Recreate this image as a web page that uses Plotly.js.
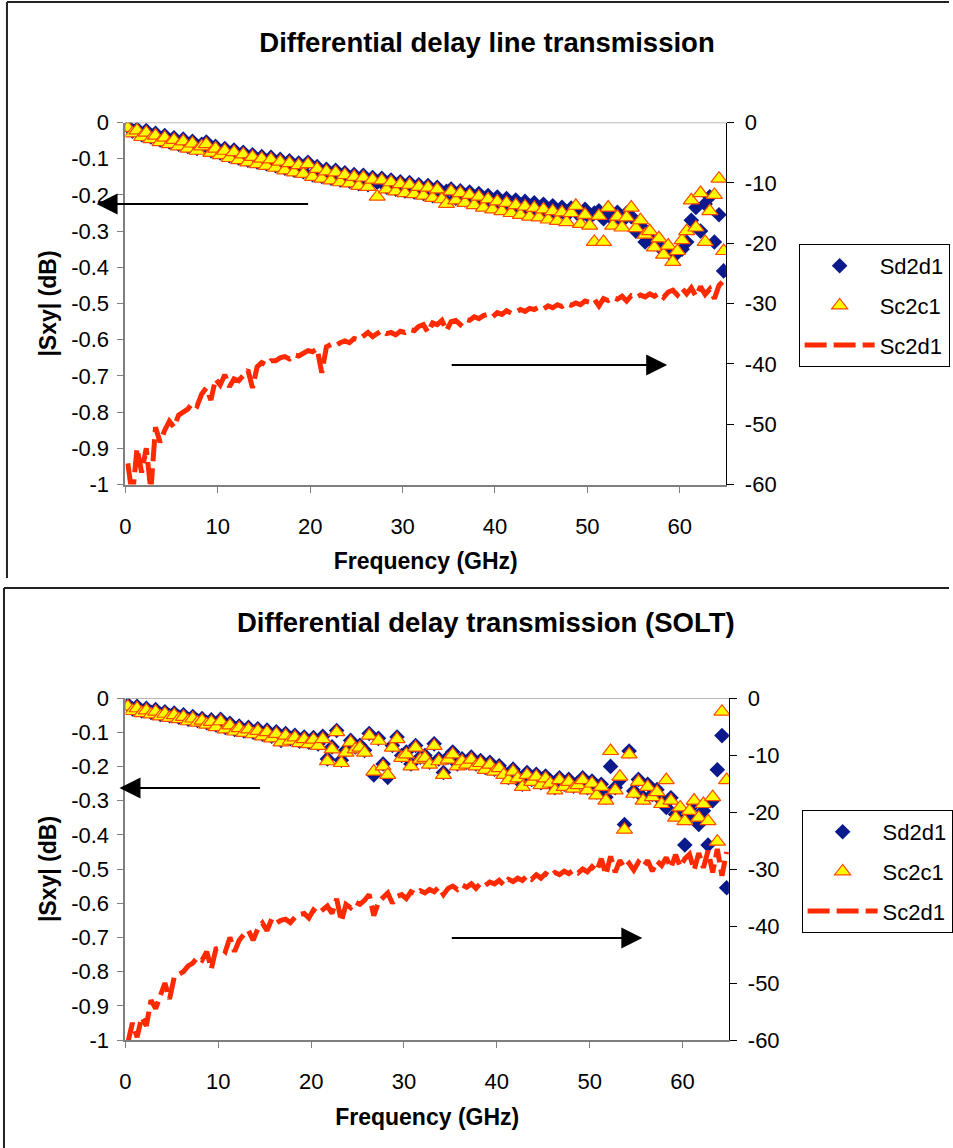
<!DOCTYPE html>
<html>
<head>
<meta charset="utf-8">
<script src="https://cdn.plot.ly/plotly-3.0.1.min.js"></script>
<style>html,body{margin:0;padding:0;background:#fff;}#chart{width:953px;height:1148px;}</style>
</head>
<body>
<div id="chart"></div>
<script>
// ---------------- DATA ----------------
const freqGHz = [0.25,0.75,1.25,1.75,2.25,2.75,3.25,3.75,4.25,4.75,5.25,5.75,6.25,6.75,7.25,7.75,8.25,8.75,9.25,9.75,
10.25,10.75,11.25,11.75,12.25,12.75,13.25,13.75,14.25,14.75,15.25,15.75,16.25,16.75,17.25,17.75,18.25,18.75,19.25,19.75,
20.25,20.75,21.25,21.75,22.25,22.75,23.25,23.75,24.25,24.75,25.25,25.75,26.25,26.75,27.25,27.75,28.25,28.75,29.25,29.75,
30.25,30.75,31.25,31.75,32.25,32.75,33.25,33.75,34.25,34.75,35.25,35.75,36.25,36.75,37.25,37.75,38.25,38.75,39.25,39.75,
40.25,40.75,41.25,41.75,42.25,42.75,43.25,43.75,44.25,44.75,45.25,45.75,46.25,46.75,47.25,47.75,48.25,48.75,49.25,49.75,
50.25,50.75,51.25,51.75,52.25,52.75,53.25,53.75,54.25,54.75,55.25,55.75,56.25,56.75,57.25,57.75,58.25,58.75,59.25,59.75,
60.25,60.75,61.25,61.75,62.25,62.75,63.25,63.75,64.25,64.75];

// Panel 1: Differential delay line transmission
const line_Sd2d1 = [-0.010,-0.024,-0.018,-0.034,-0.022,-0.040,-0.030,-0.048,-0.036,-0.054,
-0.042,-0.060,-0.046,-0.066,-0.052,-0.072,-0.060,-0.054,-0.078,-0.066,
-0.084,-0.072,-0.092,-0.076,-0.098,-0.082,-0.104,-0.089,-0.109,-0.094,
-0.114,-0.096,-0.119,-0.102,-0.126,-0.106,-0.132,-0.112,-0.136,-0.110,
-0.144,-0.122,-0.149,-0.129,-0.154,-0.132,-0.159,-0.139,-0.162,-0.144,
-0.169,-0.146,-0.172,-0.152,-0.165,-0.154,-0.179,-0.159,-0.184,-0.164,
-0.189,-0.166,-0.192,-0.172,-0.196,-0.174,-0.202,-0.179,-0.206,-0.190,
-0.184,-0.209,-0.189,-0.214,-0.192,-0.218,-0.196,-0.224,-0.202,-0.228,
-0.206,-0.232,-0.210,-0.236,-0.214,-0.240,-0.218,-0.244,-0.222,-0.246,
-0.226,-0.250,-0.230,-0.254,-0.234,-0.256,-0.236,-0.240,-0.260,-0.240,
-0.262,-0.250,-0.244,-0.266,-0.250,-0.268,-0.248,-0.272,-0.250,-0.260,
-0.300,-0.285,-0.330,-0.320,-0.335,-0.340,-0.355,-0.350,-0.370,-0.360,
-0.350,-0.330,-0.270,-0.235,-0.300,-0.225,-0.205,-0.330,-0.255,-0.410];

const line_Sc2c1 = [-0.015,-0.030,-0.022,-0.040,-0.028,-0.046,-0.036,-0.054,-0.042,-0.060,
-0.048,-0.066,-0.052,-0.072,-0.058,-0.078,-0.066,-0.060,-0.084,-0.072,
-0.090,-0.078,-0.098,-0.082,-0.104,-0.088,-0.110,-0.095,-0.115,-0.100,
-0.120,-0.102,-0.125,-0.108,-0.132,-0.112,-0.138,-0.118,-0.142,-0.115,
-0.150,-0.128,-0.155,-0.135,-0.160,-0.138,-0.165,-0.145,-0.168,-0.150,
-0.175,-0.152,-0.178,-0.158,-0.205,-0.160,-0.185,-0.165,-0.190,-0.170,
-0.195,-0.172,-0.198,-0.178,-0.202,-0.180,-0.208,-0.185,-0.212,-0.225,
-0.190,-0.215,-0.195,-0.222,-0.200,-0.228,-0.205,-0.235,-0.212,-0.240,
-0.218,-0.245,-0.222,-0.250,-0.228,-0.255,-0.232,-0.260,-0.236,-0.262,
-0.240,-0.268,-0.245,-0.272,-0.248,-0.275,-0.250,-0.230,-0.280,-0.255,
-0.285,-0.330,-0.258,-0.330,-0.235,-0.285,-0.260,-0.290,-0.262,-0.235,
-0.292,-0.270,-0.310,-0.300,-0.345,-0.320,-0.365,-0.340,-0.385,-0.355,
-0.325,-0.300,-0.215,-0.290,-0.195,-0.330,-0.245,-0.200,-0.155,-0.355];

const line_Sc2d1 = [-56.5,-62,-54,-58,-54,-61,-50.5,-53,-51,-49.5,
-50.5,-48.5,-48,-47.5,-46.5,-47,-45,-44,-46,-42.5,
-43.5,-41.8,-43.8,-42.5,-42.8,-42,-41,-44,-40.5,-39.8,
-40.2,-39.5,-39.5,-39,-38.8,-39.2,-38.5,-38.7,-38.2,-37.8,
-38,-37.5,-41.5,-37.2,-36.8,-37,-36.5,-36.2,-36.5,-35.8,
-36,-35.5,-34.8,-35.5,-35,-34.5,-35,-34.8,-35.2,-34.6,
-34.8,-34.3,-34.5,-33.8,-33.5,-34.8,-33.2,-33.5,-32.8,-34.5,
-33,-32.8,-33.5,-32.6,-32.8,-32.2,-32.5,-32,-31.8,-32.2,
-31.5,-31.8,-31.2,-31.6,-31.4,-31,-31.3,-30.8,-31,-30.6,
-30.9,-30.4,-30.7,-30.2,-30.5,-30,-30.3,-29.9,-30.2,-29.6,
-29.8,-29.3,-30.4,-29.2,-29.5,-29,-29.3,-28.8,-29.6,-28.7,
-29,-28.6,-28.9,-28.4,-28.8,-28.3,-29,-28.1,-27.8,-28.6,
-27.5,-28.4,-27.4,-28.8,-27.2,-28.5,-27.6,-29.2,-27,-26.2];

// Panel 2: Differential delay transmission (SOLT)
const solt_Sd2d1 = [-0.019,-0.032,-0.024,-0.038,-0.030,-0.042,-0.034,-0.048,-0.040,-0.052,
-0.044,-0.056,-0.049,-0.062,-0.054,-0.066,-0.060,-0.072,-0.064,-0.079,
-0.062,-0.086,-0.074,-0.092,-0.082,-0.096,-0.086,-0.100,-0.090,-0.106,
-0.094,-0.112,-0.099,-0.124,-0.104,-0.119,-0.109,-0.126,-0.114,-0.129,
-0.116,-0.134,-0.112,-0.178,-0.143,-0.095,-0.182,-0.152,-0.124,-0.143,
-0.138,-0.153,-0.104,-0.225,-0.118,-0.193,-0.232,-0.139,-0.114,-0.168,
-0.158,-0.193,-0.139,-0.173,-0.168,-0.188,-0.134,-0.178,-0.218,-0.173,
-0.158,-0.193,-0.178,-0.188,-0.173,-0.193,-0.183,-0.203,-0.188,-0.208,
-0.198,-0.218,-0.232,-0.208,-0.228,-0.252,-0.218,-0.238,-0.223,-0.248,
-0.228,-0.243,-0.262,-0.233,-0.252,-0.238,-0.258,-0.248,-0.233,-0.262,
-0.243,-0.275,-0.252,-0.290,-0.200,-0.262,-0.240,-0.370,-0.155,-0.272,
-0.238,-0.290,-0.252,-0.282,-0.268,-0.300,-0.320,-0.292,-0.340,-0.330,
-0.430,-0.350,-0.310,-0.370,-0.330,-0.430,-0.300,-0.210,-0.110,-0.555];

const solt_Sc2c1 = [-0.025,-0.038,-0.030,-0.044,-0.036,-0.048,-0.040,-0.054,-0.046,-0.058,
-0.050,-0.062,-0.055,-0.068,-0.060,-0.072,-0.066,-0.078,-0.070,-0.085,
-0.068,-0.092,-0.080,-0.098,-0.088,-0.102,-0.092,-0.106,-0.096,-0.112,
-0.100,-0.118,-0.105,-0.130,-0.110,-0.125,-0.115,-0.132,-0.120,-0.135,
-0.122,-0.140,-0.120,-0.185,-0.150,-0.100,-0.190,-0.160,-0.130,-0.150,
-0.145,-0.160,-0.110,-0.215,-0.125,-0.200,-0.225,-0.145,-0.120,-0.175,
-0.165,-0.200,-0.145,-0.180,-0.175,-0.195,-0.140,-0.185,-0.225,-0.180,
-0.165,-0.200,-0.185,-0.195,-0.180,-0.200,-0.190,-0.210,-0.195,-0.215,
-0.205,-0.225,-0.240,-0.215,-0.235,-0.260,-0.225,-0.245,-0.230,-0.255,
-0.235,-0.250,-0.270,-0.240,-0.260,-0.245,-0.265,-0.255,-0.240,-0.270,
-0.250,-0.285,-0.260,-0.300,-0.155,-0.270,-0.230,-0.385,-0.165,-0.280,
-0.245,-0.300,-0.260,-0.290,-0.275,-0.310,-0.240,-0.300,-0.350,-0.320,
-0.360,-0.330,-0.300,-0.350,-0.310,-0.360,-0.290,-0.420,-0.040,-0.240];

const solt_Sc2d1 = [-60.5,-57,-59.5,-56,-57.5,-53,-54.5,-52.5,-50,-52.8,
-49,-48.5,-48,-47,-46.5,-45.5,-46,-44.5,-47.5,-44,
-43.8,-44.5,-42,-44.5,-42.5,-41.5,-40.8,-42.5,-40.5,-39.5,
-40.8,-38.8,-39.5,-39,-38.8,-39.4,-38.5,-38,-37.8,-38.6,
-37.2,-37.8,-37,-36.5,-37.8,-35.2,-39.2,-36.2,-36.8,-35.8,
-36.2,-35.5,-34.5,-38.2,-35.8,-35,-34.2,-36,-34.8,-34.5,
-35.2,-34,-34.4,-33.8,-34.2,-33.6,-34,-33.2,-34.5,-33.4,
-33,-33.6,-32.8,-33.2,-32.6,-33.4,-32.5,-32.9,-32.3,-32.6,
-32,-32.8,-31.8,-32.2,-31.6,-32,-31.2,-31.8,-31,-31.6,
-30.8,-31.3,-30.6,-31,-30.4,-30.8,-30.2,-30.7,-30,-30.5,
-29.6,-30.4,-28.2,-31,-27.8,-30.6,-28.5,-29.8,-29,-30.2,
-28.8,-29.6,-28.5,-30.4,-28.6,-29.4,-28,-29.8,-27.5,-29.6,
-28.2,-27.4,-30.2,-27.2,-29.8,-26.8,-30.6,-26.5,-31.2,-27];

const xTickVals = [0,10,20,30,40,50,60];
const xTickText = ['0','10','20','30','40','50','60'];
const leftTickVals = [0,-0.1,-0.2,-0.3,-0.4,-0.5,-0.6,-0.7,-0.8,-0.9,-1];
const leftTickText = ['0','-0.1','-0.2','-0.3','-0.4','-0.5','-0.6','-0.7','-0.8','-0.9','-1'];
const rightTickVals = [0,-10,-20,-30,-40,-50,-60];
const rightTickText = ['0','-10','-20','-30','-40','-50','-60'];
const seriesNames = ['Sd2d1','Sc2c1','Sc2d1'];
const titles = ['Differential delay line transmission','Differential delay transmission (SOLT)'];

// ---------------- LAYOUT HELPERS ----------------
const W = 953, H = 1148;
const px = v => v / W;
const py = v => 1 - v / H;
const FONT = 'Liberation Sans, Arial, sans-serif';

function scatterTraces(xa, ya, ya2, legendId, dia, tri, red) {
  return [
    {x: freqGHz, y: dia, type: 'scatter', mode: 'markers', name: seriesNames[0],
     xaxis: xa, yaxis: ya, legend: legendId, legendgroup: legendId + 'a',
     marker: {symbol: 'diamond', size: 12, color: '#0A1A8C'}},
    {x: freqGHz, y: tri, type: 'scatter', mode: 'markers', name: seriesNames[1],
     xaxis: xa, yaxis: ya, legend: legendId, legendgroup: legendId + 'b',
     marker: {symbol: 'triangle-up', size: 14, color: '#FFFF00', line: {color: '#FF4A00', width: 1.2}}},
    {x: freqGHz, y: red, type: 'scatter', mode: 'lines', name: seriesNames[2],
     xaxis: xa, yaxis: ya2, legend: legendId, legendgroup: legendId + 'c',
     line: {color: '#FF2A00', width: 5, dash: '22px,7px'}}
  ];
}

const data = [].concat(
  scatterTraces('x', 'y', 'y2', 'legend', line_Sd2d1, line_Sc2c1, line_Sc2d1),
  scatterTraces('x2', 'y3', 'y4', 'legend2', solt_Sd2d1, solt_Sc2c1, solt_Sc2d1)
);

const tickFont = {family: FONT, size: 22, color: '#000'};
const titleFont = {family: FONT, size: 23, color: '#000', weight: 'bold'};

function xAxis(domain, anchor) {
  return {domain: domain, anchor: anchor, range: [0, 65], tickmode: 'array', tickvals: xTickVals, ticktext: xTickText,
    showgrid: false, zeroline: false, showline: true, linecolor: '#7F7F7F', linewidth: 2,
    ticks: 'outside', ticklen: 6, tickcolor: '#7F7F7F', tickwidth: 1, tickfont: tickFont, ticklabelstandoff: 15,
    title: {text: 'Frequency (GHz)', font: titleFont, standoff: 15}};
}
function yLeft(domain, anchor) {
  return {domain: domain, anchor: anchor, range: [-1, 0], tickmode: 'array', tickvals: leftTickVals, ticktext: leftTickText,
    showgrid: false, zeroline: false, showline: true, linecolor: '#7F7F7F', linewidth: 2,
    ticks: 'outside', ticklen: 6, tickcolor: '#7F7F7F', tickfont: tickFont, ticklabelstandoff: 4,
    title: {text: '|Sxy| (dB)', font: titleFont, standoff: 8}};
}
function yRight(overlay, anchor) {
  return {overlaying: overlay, anchor: anchor, side: 'right', range: [-60, 0], tickmode: 'array',
    tickvals: rightTickVals, ticktext: rightTickText,
    showgrid: false, zeroline: false, showline: true, linecolor: '#000', linewidth: 1.5,
    ticks: 'outside', ticklen: 7, tickcolor: '#000', tickfont: tickFont, ticklabelstandoff: 6};
}

const legendBase = {bgcolor: '#fff', bordercolor: '#000', borderwidth: 1, xanchor: 'left', yanchor: 'top',
  font: {family: FONT, size: 22, color: '#000'}, itemwidth: 70, tracegroupgap: 8, traceorder: 'grouped'};

function frameLine(x0, y0, x1, y1) {
  return {type: 'line', xref: 'paper', yref: 'paper', x0: px(x0), y0: py(y0), x1: px(x1), y1: py(y1),
    line: {color: '#222', width: 2}};
}
function arrow(tipX, tipY, tailX) {
  return {xref: 'paper', yref: 'paper', x: px(tipX), y: py(tipY), axref: 'pixel', ayref: 'pixel',
    ax: tailX - tipX, ay: 0, text: '', showarrow: true, arrowhead: 2, arrowsize: 2.1, arrowwidth: 2, arrowcolor: '#000'};
}

const layout = {
  width: W, height: H, margin: {l: 0, r: 0, t: 0, b: 0},
  paper_bgcolor: '#fff', plot_bgcolor: 'rgba(0,0,0,0)',
  font: {family: FONT, color: '#000'},
  title: {text: titles[0], x: px(487), y: py(42), xanchor: 'center', yanchor: 'middle',
    font: {family: FONT, size: 27.5, weight: 'bold', color: '#000'}},
  xaxis: xAxis([px(126), px(729)], 'y'),
  yaxis: yLeft([py(484.5), py(122.5)], 'x'),
  yaxis2: yRight('y', 'x'),
  xaxis2: xAxis([px(126), px(732)], 'y3'),
  yaxis3: yLeft([py(1040), py(698)], 'x2'),
  yaxis4: yRight('y3', 'x2'),
  legend: Object.assign({x: px(802), y: py(244)}, legendBase),
  legend2: Object.assign({x: px(805), y: py(810)}, legendBase),
  shapes: [
    frameLine(7, 2, 953, 2), frameLine(7, 2, 7, 578),
    frameLine(4, 588, 953, 588), frameLine(4, 588, 4, 1148),
    {type: 'line', xref: 'x', yref: 'y', x0: 0, x1: 65, y0: 0, y1: 0, line: {color: '#A0A0A0', width: 1.5}},
    {type: 'line', xref: 'x2', yref: 'y3', x0: 0, x1: 65, y0: 0, y1: 0, line: {color: '#A0A0A0', width: 1.5}}
  ],
  annotations: [
    {xref: 'paper', yref: 'paper', x: px(488), y: py(622), text: titles[1], showarrow: false,
     xanchor: 'center', yanchor: 'middle', font: {family: FONT, size: 27.5, weight: 'bold', color: '#000'}},
    arrow(97, 204, 310), arrow(670, 365, 453),
    arrow(120, 788, 262), arrow(645, 938, 453)
  ]
};

Plotly.newPlot('chart', data, layout, {displayModeBar: false, staticPlot: true});
</script>
</body>
</html>
